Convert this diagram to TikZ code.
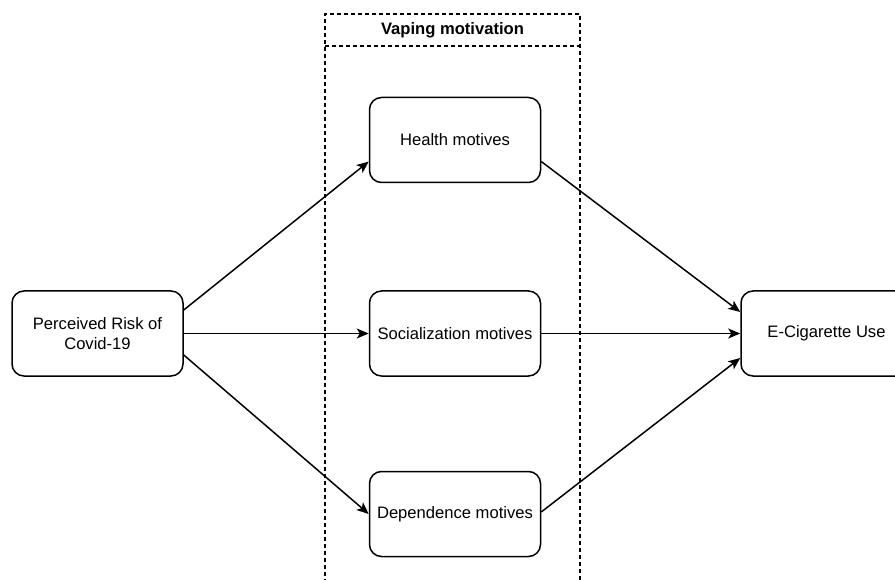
\documentclass[tikz,border=0pt]{standalone}
\usepackage{fontspec}
\setmainfont{Liberation Sans}
\usetikzlibrary{positioning, arrows.meta}

\tikzset{
    factor/.style={draw, rounded corners=12pt, line width=1.5pt, minimum width=171pt,
        minimum height=85pt, align=center, font=\fontsize{16.6}{20}\selectfont},
    link/.style={-{Stealth[length=12pt, width=10pt, inset=3pt]}, line width=1.5pt},
    frame/.style={line width=1.2pt, dash pattern=on 4pt off 3pt}
}

\begin{document}
\begin{tikzpicture}
    \useasboundingbox (0,0) rectangle (895pt,-580pt);

    % factors
    \node [factor] (risk) at (97.5pt,-333.5pt) {Perceived Risk of\\Covid-19};
    \node [factor, right=185pt of risk] (social) {Socialization motives};
    \node [factor, above=107pt of social] (health) {Health motives};
    \node [factor, below=94pt of social] (depend) {Dependence motives};
    \node [factor, right=199pt of social] (ecig) {E-Cigarette Use};

    % mediator frame
    \draw [frame] (325pt,-590pt) -- (325pt,-14pt) -- (580pt,-14pt) -- (580pt,-590pt);
    \draw [frame] (325pt,-46pt) -- (580pt,-46pt);
    \node [font=\bfseries\fontsize{16.6}{20}\selectfont] (title) at (452.5pt,-30pt) {Vaping motivation};

    % paths
    \draw [link] ([yshift=23.5pt]risk.east) -- ([yshift=-21.5pt]health.west);
    \draw [link] (risk.east) -- (social.west);
    \draw [link] ([yshift=-21.5pt]risk.east) -- (depend.west);
    \draw [link] ([yshift=-21.5pt]health.east) -- ([yshift=21.5pt]ecig.west);
    \draw [link] (social.east) -- (ecig.west);
    \draw [link] ([yshift=2pt]depend.east) -- ([yshift=-24.5pt]ecig.west);
\end{tikzpicture}
\end{document}
